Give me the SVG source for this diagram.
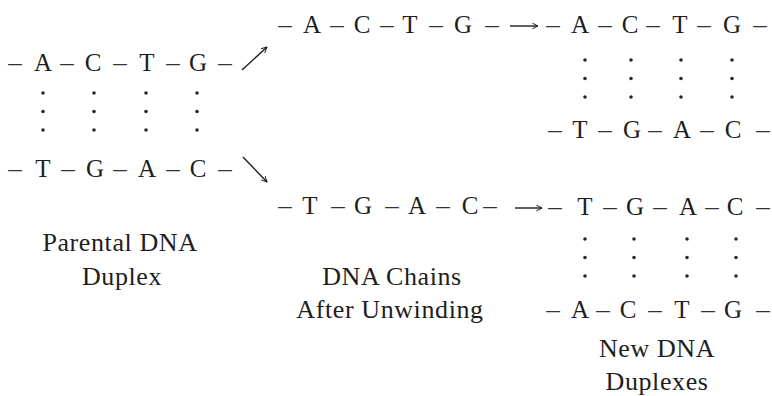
<svg xmlns="http://www.w3.org/2000/svg" width="772" height="396" viewBox="0 0 772 396" font-family="Liberation Serif, serif">
  <style>
    .b { font-size: 25px; text-anchor: middle; fill: #1e1e1e; }
    .d { font-size: 27px; text-anchor: middle; fill: #333; }
    .lab { font-size: 26px; text-anchor: middle; letter-spacing: 0.6px; fill: #1e1e1e; }
    .dot { fill: #2a2a2a; }
    .arr { stroke: #1e1e1e; stroke-width: 1.4; fill: none; }
  </style>
  <defs>
    <marker id="head" viewBox="0 0 10 10" refX="9" refY="5" markerWidth="7" markerHeight="7" orient="auto" markerUnits="userSpaceOnUse">
      <path d="M1,1 L9,5 L1,9" fill="none" stroke="#1e1e1e" stroke-width="1.4"/>
    </marker>
    <g id="pair">
      <circle cx="0" cy="0" r="1.8" class="dot"/>
      <circle cx="0" cy="18.5" r="1.8" class="dot"/>
      <circle cx="0" cy="37" r="1.8" class="dot"/>
    </g>
  </defs>

  <!-- parental duplex -->
  <g id="parental" font-family="Liberation Serif, serif">
    <text font-family="Liberation Serif, serif" class="d" x="15" y="71">–</text><text font-family="Liberation Serif, serif" class="b" x="43" y="71">A</text>
    <text font-family="Liberation Serif, serif" class="d" x="67" y="71">–</text><text font-family="Liberation Serif, serif" class="b" x="93" y="71">C</text>
    <text font-family="Liberation Serif, serif" class="d" x="120" y="71">–</text><text font-family="Liberation Serif, serif" class="b" x="147" y="71">T</text>
    <text font-family="Liberation Serif, serif" class="d" x="173" y="71">–</text><text font-family="Liberation Serif, serif" class="b" x="198" y="71">G</text>
    <text font-family="Liberation Serif, serif" class="d" x="225" y="71">–</text>
    <use href="#pair" x="43" y="93"/><use href="#pair" x="94" y="93"/>
    <use href="#pair" x="146" y="93"/><use href="#pair" x="197" y="93"/>
    <text font-family="Liberation Serif, serif" class="d" x="15" y="177">–</text><text font-family="Liberation Serif, serif" class="b" x="43" y="177">T</text>
    <text font-family="Liberation Serif, serif" class="d" x="68" y="177">–</text><text font-family="Liberation Serif, serif" class="b" x="95" y="177">G</text>
    <text font-family="Liberation Serif, serif" class="d" x="120" y="177">–</text><text font-family="Liberation Serif, serif" class="b" x="147" y="177">A</text>
    <text font-family="Liberation Serif, serif" class="d" x="173" y="177">–</text><text font-family="Liberation Serif, serif" class="b" x="198" y="177">C</text>
    <text font-family="Liberation Serif, serif" class="d" x="225" y="177">–</text>
    <text font-family="Liberation Serif, serif" class="lab" x="120" y="251">Parental DNA</text>
    <text font-family="Liberation Serif, serif" class="lab" x="122" y="285">Duplex</text>
  </g>

  <!-- separated chains -->
  <g id="chains" font-family="Liberation Serif, serif">
    <text font-family="Liberation Serif, serif" class="d" x="285" y="33">–</text><text font-family="Liberation Serif, serif" class="b" x="312" y="33">A</text>
    <text font-family="Liberation Serif, serif" class="d" x="337" y="33">–</text><text font-family="Liberation Serif, serif" class="b" x="362" y="33">C</text>
    <text font-family="Liberation Serif, serif" class="d" x="387" y="33">–</text><text font-family="Liberation Serif, serif" class="b" x="410" y="33">T</text>
    <text font-family="Liberation Serif, serif" class="d" x="436" y="33">–</text><text font-family="Liberation Serif, serif" class="b" x="463" y="33">G</text>
    <text font-family="Liberation Serif, serif" class="d" x="492" y="33">–</text>
    <text font-family="Liberation Serif, serif" class="d" x="285" y="214">–</text><text font-family="Liberation Serif, serif" class="b" x="310" y="214">T</text>
    <text font-family="Liberation Serif, serif" class="d" x="338" y="214">–</text><text font-family="Liberation Serif, serif" class="b" x="363" y="214">G</text>
    <text font-family="Liberation Serif, serif" class="d" x="392" y="214">–</text><text font-family="Liberation Serif, serif" class="b" x="417" y="214">A</text>
    <text font-family="Liberation Serif, serif" class="d" x="443" y="214">–</text><text font-family="Liberation Serif, serif" class="b" x="470" y="214">C</text>
    <text font-family="Liberation Serif, serif" class="d" x="490" y="214">–</text>
    <text font-family="Liberation Serif, serif" class="lab" x="392" y="285">DNA Chains</text>
    <text font-family="Liberation Serif, serif" class="lab" x="390" y="318">After Unwinding</text>
  </g>

  <!-- first daughter duplex -->
  <g id="daughter1" font-family="Liberation Serif, serif">
    <text font-family="Liberation Serif, serif" class="d" x="553" y="33">–</text><text font-family="Liberation Serif, serif" class="b" x="580" y="33">A</text>
    <text font-family="Liberation Serif, serif" class="d" x="605" y="33">–</text><text font-family="Liberation Serif, serif" class="b" x="630" y="33">C</text>
    <text font-family="Liberation Serif, serif" class="d" x="653" y="33">–</text><text font-family="Liberation Serif, serif" class="b" x="680" y="33">T</text>
    <text font-family="Liberation Serif, serif" class="d" x="704" y="33">–</text><text font-family="Liberation Serif, serif" class="b" x="732" y="33">G</text>
    <text font-family="Liberation Serif, serif" class="d" x="760" y="33">–</text>
    <use href="#pair" x="585" y="60"/><use href="#pair" x="631" y="60"/>
    <use href="#pair" x="681" y="60"/><use href="#pair" x="732" y="60"/>
    <text font-family="Liberation Serif, serif" class="d" x="555" y="138">–</text><text font-family="Liberation Serif, serif" class="b" x="580" y="138">T</text>
    <text font-family="Liberation Serif, serif" class="d" x="605" y="138">–</text><text font-family="Liberation Serif, serif" class="b" x="632" y="138">G</text>
    <text font-family="Liberation Serif, serif" class="d" x="655" y="138">–</text><text font-family="Liberation Serif, serif" class="b" x="682" y="138">A</text>
    <text font-family="Liberation Serif, serif" class="d" x="707" y="138">–</text><text font-family="Liberation Serif, serif" class="b" x="733" y="138">C</text>
    <text font-family="Liberation Serif, serif" class="d" x="763" y="138">–</text>
  </g>

  <!-- second daughter duplex -->
  <g id="daughter2" font-family="Liberation Serif, serif">
    <text font-family="Liberation Serif, serif" class="d" x="555" y="215">–</text><text font-family="Liberation Serif, serif" class="b" x="585" y="215">T</text>
    <text font-family="Liberation Serif, serif" class="d" x="610" y="215">–</text><text font-family="Liberation Serif, serif" class="b" x="635" y="215">G</text>
    <text font-family="Liberation Serif, serif" class="d" x="660" y="215">–</text><text font-family="Liberation Serif, serif" class="b" x="688" y="215">A</text>
    <text font-family="Liberation Serif, serif" class="d" x="712" y="215">–</text><text font-family="Liberation Serif, serif" class="b" x="735" y="215">C</text>
    <text font-family="Liberation Serif, serif" class="d" x="763" y="215">–</text>
    <use href="#pair" x="585" y="239"/><use href="#pair" x="634" y="239"/>
    <use href="#pair" x="687" y="239"/><use href="#pair" x="736" y="239"/>
    <text font-family="Liberation Serif, serif" class="d" x="553" y="318">–</text><text font-family="Liberation Serif, serif" class="b" x="580" y="318">A</text>
    <text font-family="Liberation Serif, serif" class="d" x="603" y="318">–</text><text font-family="Liberation Serif, serif" class="b" x="628" y="318">C</text>
    <text font-family="Liberation Serif, serif" class="d" x="655" y="318">–</text><text font-family="Liberation Serif, serif" class="b" x="682" y="318">T</text>
    <text font-family="Liberation Serif, serif" class="d" x="708" y="318">–</text><text font-family="Liberation Serif, serif" class="b" x="733" y="318">G</text>
    <text font-family="Liberation Serif, serif" class="d" x="763" y="318">–</text>
    <text font-family="Liberation Serif, serif" class="lab" x="657" y="357">New DNA</text>
    <text font-family="Liberation Serif, serif" class="lab" x="657" y="390">Duplexes</text>
  </g>

  <!-- arrows -->
  <g id="connectors">
    <line class="arr" x1="242" y1="70" x2="267" y2="47" marker-end="url(#head)"/>
    <line class="arr" x1="243" y1="157" x2="267" y2="182" marker-end="url(#head)"/>
    <line class="arr" x1="510" y1="26" x2="538" y2="26" marker-end="url(#head)"/>
    <line class="arr" x1="515" y1="208" x2="542" y2="208" marker-end="url(#head)"/>
  </g>
</svg>
